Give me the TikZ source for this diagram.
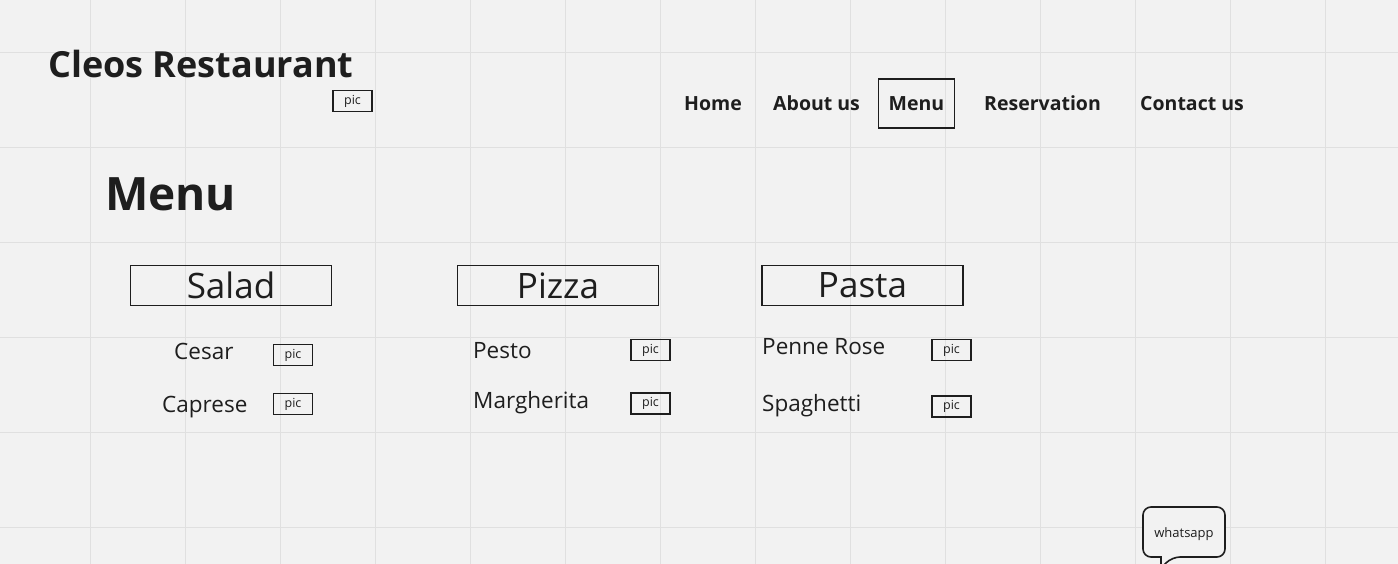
\documentclass[tikz,border=0pt]{standalone}
\usepackage{fontspec}
\setmainfont{Open Sans}
\definecolor{paper}{HTML}{F2F2F2}
\definecolor{gridgray}{HTML}{E0E0E0}
\definecolor{ink}{HTML}{1E1E1E}
\newcommand{\fs}[1]{\fontsize{#1}{#1}\selectfont}

\begin{document}
\begin{tikzpicture}
  [x=1pt,y=-1pt,every node/.style={inner sep=0pt,text=ink},
   txt/.style={anchor=base west},
   picbox/.style={draw=ink,line width=1.5pt,minimum width=39pt,minimum height=21pt,font=\fs{12.5}},
   catbox/.style={draw=ink,line width=1.6pt,minimum width=201pt,minimum height=40pt,font=\fs{35}}]
  \tikzstyle{navitem} = [txt,font=\bfseries\fs{19.5}]
  \tikzstyle{dish} = [txt,font=\fs{22.5}]
  \clip (0,0) rectangle (1398,564);
  \fill[paper] (0,0) rectangle (1398,564);
  % grid
  \foreach \x in {90.5,185.5,...,1325.5}
   \draw[gridgray,line width=1.3pt] (\x,0) -- (\x,564);
  \foreach \y in {52.5,147.5,...,527.5}
   \draw[gridgray,line width=1.3pt] (0,\y) -- (1398,\y);
  % header
  \node[txt,font=\bfseries\fs{36}] (title) at (48,78) {Cleos Restaurant};
  \node[picbox] (logo) at (352.5,101) {pic};
  \foreach \name /\x /\label in {home/684/Home,about/773/About us,resv/984/Reservation,contact/1140/Contact us}
   \node[navitem] (\name) at (\x,111) {\label};
  \node[draw=ink,line width=1.6pt,minimum width=76pt,minimum height=49pt,font=\bfseries\fs{19.5}] (menu) at (916.5,103.5) {Menu};
  \node[txt,font=\bfseries\fs{46}] (menuhead) at (105,211) {Menu};
  % categories
  \foreach \name /\x /\label in {salad/231/Salad,pizza/558/Pizza,pasta/862.5/Pasta}
   \node[catbox] (\name) at (\x,285.5) {\label};
  % dishes
  \foreach \name /\x /\y /\label in {cesar/174/359/Cesar,caprese/162/412/Caprese,pesto/473/358/Pesto,margherita/473/408/Margherita,penne/762/354/Penne Rose,spaghetti/762/411/Spaghetti}
   \node[dish] (\name) at (\x,\y) {\label};
  \foreach \name /\x /\y in {cesar/293/355,caprese/293/404,pesto/650.5/350,margherita/650.5/403.5,penne/951.5/350,spaghetti/951.5/406.5}
   \node[picbox] (pic-\name) at (\x,\y) {pic};
  % whatsapp bubble
  \draw[ink,fill=paper,line width=1.6pt] (1161,568) -- (1161,557) [rounded corners=8pt] -- (1143,557) -- (1143,507) -- (1225,507) -- (1225,557) -- (1172,557) [sharp corners] -- cycle;
  \node[anchor=base,font=\fs{13}] (whatsapp) at (1184,537) {whatsapp};
\end{tikzpicture}
\end{document}
